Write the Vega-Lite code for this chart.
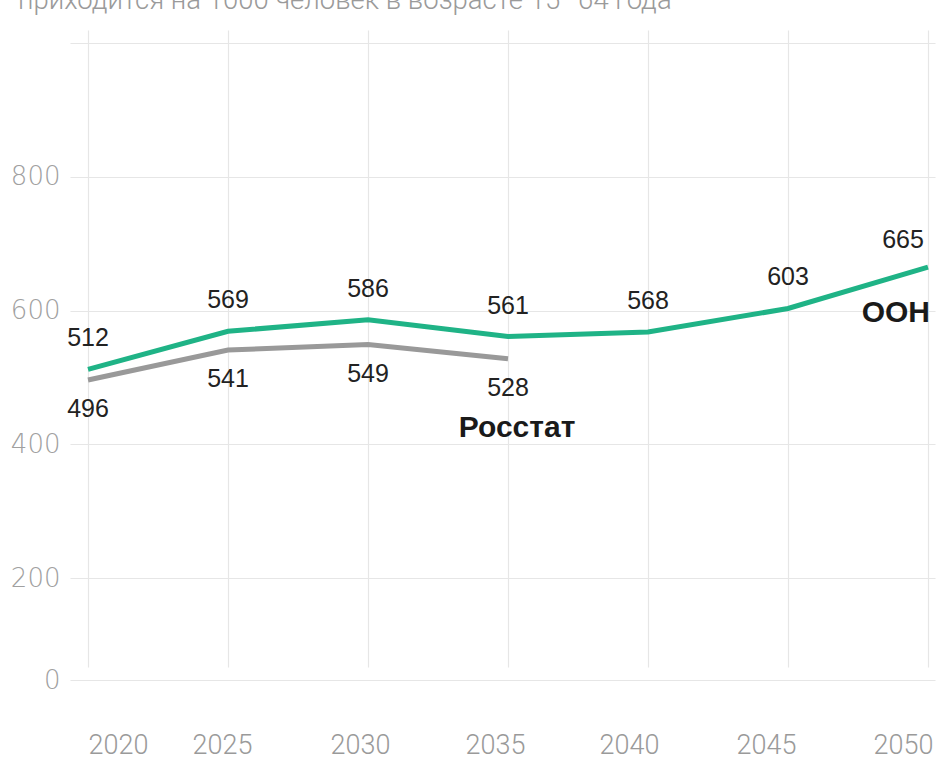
{
  "$schema": "https://vega.github.io/schema/vega-lite/v6.json",
  "width": 865,
  "height": 690,
  "autosize": {"type": "none"},
  "padding": {"left": 70, "top": 10, "right": 6, "bottom": 58},
  "background": "white",
  "config": {"view": {"stroke": null}},
  "title": {
    "text": "приходится на 1000 человек в возрасте 15–64 года",
    "anchor": "start",
    "frame": "group",
    "orient": "top",
    "offset": 3,
    "dx": -52,
    "dy": 29,
    "baseline": "alphabetic",
    "font": "Roboto",
    "fontSize": 27.5,
    "fontWeight": 300,
    "color": "#9a9a9a"
  },
  "data": {
    "values": [
      {"series": "ООН", "year": 2020, "value": 512},
      {"series": "ООН", "year": 2025, "value": 569},
      {"series": "ООН", "year": 2030, "value": 586},
      {"series": "ООН", "year": 2035, "value": 561},
      {"series": "ООН", "year": 2040, "value": 568},
      {"series": "ООН", "year": 2045, "value": 603},
      {"series": "ООН", "year": 2050, "value": 665},
      {"series": "Росстат", "year": 2020, "value": 496},
      {"series": "Росстат", "year": 2025, "value": 541},
      {"series": "Росстат", "year": 2030, "value": 549},
      {"series": "Росстат", "year": 2035, "value": 528}
    ]
  },
  "encoding": {
    "x": {
      "field": "year",
      "type": "quantitative",
      "scale": {"domain": [2019.357, 2050.25], "nice": false, "zero": false},
      "axis": {
        "title": null,
        "values": [2020, 2025, 2030, 2035, 2040, 2045, 2050],
        "format": "d",
        "grid": true,
        "gridColor": "#e6e6e6",
        "gridWidth": 1.2,
        "domain": false,
        "ticks": false,
        "labelPadding": 32,
        "labelOffset": {
          "condition": [
            {"test": "datum.value == 2020", "value": 30},
            {"test": "datum.value == 2025", "value": -6},
            {"test": "datum.value == 2030", "value": -8},
            {"test": "datum.value == 2035", "value": -13},
            {"test": "datum.value == 2040", "value": -19},
            {"test": "datum.value == 2045", "value": -22},
            {"test": "datum.value == 2050", "value": -25}
          ],
          "value": 0
        },
        "labelFlush": false,
        "labelOverlap": false,
        "labelFont": "Roboto",
        "labelFontWeight": 300,
        "labelFontSize": 27,
        "labelColor": "#9a9a9a"
      }
    },
    "y": {
      "field": "value",
      "type": "quantitative",
      "scale": {"domain": [0, 200, 1000], "range": [670, 568, 33], "nice": false, "zero": false},
      "axis": {
        "title": null,
        "values": [0, 200, 400, 600, 800, 1000],
        "labelExpr": "datum.value == 1000 ? '' : datum.label",
        "grid": true,
        "gridColor": "#e6e6e6",
        "gridWidth": 1.2,
        "domain": false,
        "ticks": false,
        "labelPadding": 10,
        "labelFont": "DejaVu Sans",
        "labelFontWeight": 200,
        "labelFontSize": 26,
        "labelColor": "#a0a0a0"
      }
    }
  },
  "layer": [
    {
      "mark": {"type": "line", "strokeWidth": 5, "strokeCap": "butt"},
      "encoding": {
        "color": {
          "field": "series",
          "type": "nominal",
          "scale": {"domain": ["ООН", "Росстат"], "range": ["#1fb386", "#999999"]},
          "legend": null
        }
      }
    },
    {
      "transform": [{"filter": "datum.series == 'ООН' && datum.year != 2050"}],
      "mark": {"type": "text", "dy": -31, "font": "Liberation Sans", "fontSize": 25, "color": "#222222"},
      "encoding": {"text": {"field": "value", "type": "quantitative"}}
    },
    {
      "transform": [{"filter": "datum.series == 'ООН' && datum.year == 2050"}],
      "mark": {"type": "text", "dy": -27, "dx": -25, "font": "Liberation Sans", "fontSize": 25, "color": "#222222"},
      "encoding": {"text": {"field": "value", "type": "quantitative"}}
    },
    {
      "transform": [{"filter": "datum.series == 'Росстат'"}],
      "mark": {"type": "text", "dy": 29, "font": "Liberation Sans", "fontSize": 25, "color": "#222222"},
      "encoding": {"text": {"field": "value", "type": "quantitative"}}
    },
    {
      "transform": [{"filter": "datum.series == 'Росстат' && datum.year == 2035"}],
      "mark": {"type": "text", "dy": 69, "dx": 9, "font": "Liberation Sans", "fontSize": 30, "fontWeight": "bold", "color": "#1a1a1a", "text": "Росстат"},
      "encoding": {}
    },
    {
      "transform": [{"filter": "datum.series == 'ООН' && datum.year == 2050"}],
      "mark": {"type": "text", "dy": 46, "dx": 2, "align": "right", "font": "Liberation Sans", "fontSize": 30, "fontWeight": "bold", "color": "#1a1a1a", "text": "ООН"},
      "encoding": {}
    }
  ]
}
